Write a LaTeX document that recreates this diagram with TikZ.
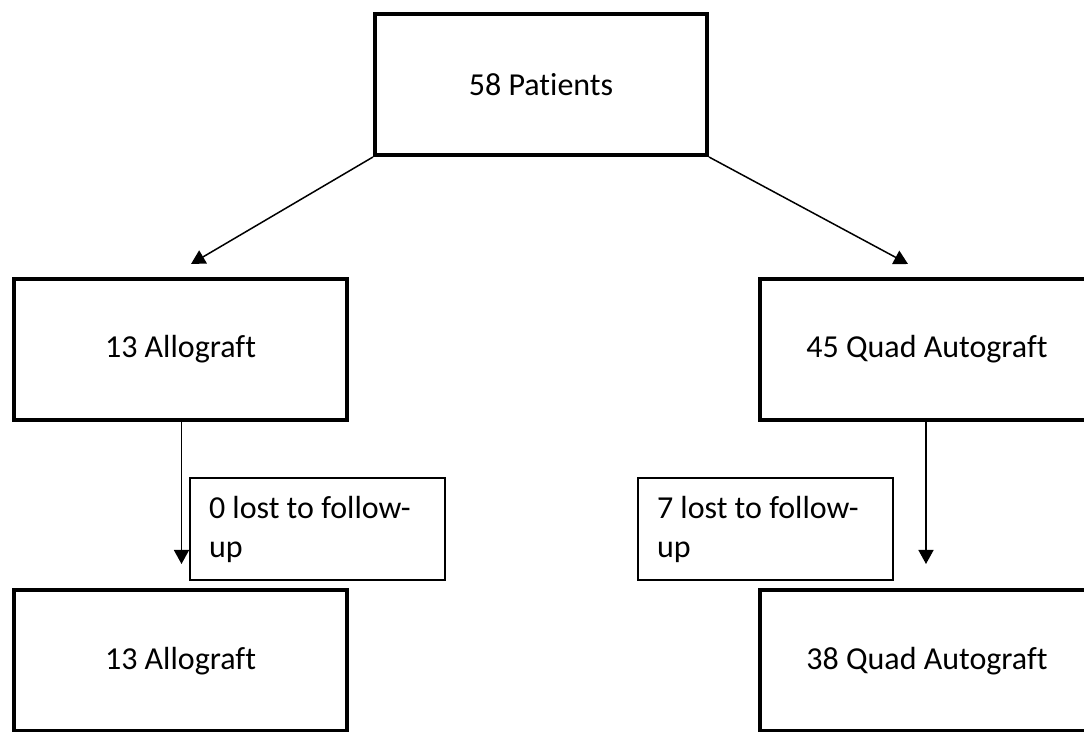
\documentclass[tikz,border=0pt]{standalone}
\usepackage{fontspec}
\setmainfont{Carlito}[Ligatures=NoCommon]
\usetikzlibrary{arrows.meta}

\begin{document}
\begin{tikzpicture}[
   x=0.5pt, y=-0.5pt,
   bigbox/.style={draw, line width=2pt, minimum height=70.5pt, inner sep=0pt},
   lostbox/.style={draw, line width=0.8pt, minimum height=51pt,
      text width=108.5pt, inner xsep=9.5pt, align=flush left},  % <-- text starts at the left
   arr/.style={line width=0.75pt, -{Triangle[width=7.5pt,length=7pt]}}
]
\tikzset{every node/.style={font=\fontsize{16}{19.5}\selectfont}}
\useasboundingbox (0,0) rectangle (1084,732);
\clip (0,0) rectangle (1084,732);

\node[bigbox, minimum width=166pt]   (patients) at (541,84.5)  {58 Patients};
\node[bigbox, minimum width=166.5pt] (allo1)    at (180.5,349.5) {13 Allograft};
\node[bigbox, minimum width=167pt]   (quad1)    at (927,349.5) {45 Quad Autograft};
\node[bigbox, minimum width=166.5pt] (allo2)    at (180.5,661) {13 Allograft};
\node[bigbox, minimum width=167pt]   (quad2)    at (927,661)   {38 Quad Autograft};

\node[lostbox] (allolost) at (317.5,529) {0 lost to follow-\\up};
\node[lostbox] (quadlost) at (765.5,529) {7 lost to follow-\\up};

\coordinate (alloin)  at (191,264);
\coordinate (quadin)  at (908,264);
\coordinate (alloend) at (181.5,564);
\coordinate (quadend) at (926,564);

\draw[arr] (patients.south west) -- (alloin);
\draw[arr] (patients.south east) -- (quadin);
\draw[arr] (allo1.south -| alloend) -- (alloend);
\draw[arr] (quad1.south -| quadend) -- (quadend);
\end{tikzpicture}
\end{document}
